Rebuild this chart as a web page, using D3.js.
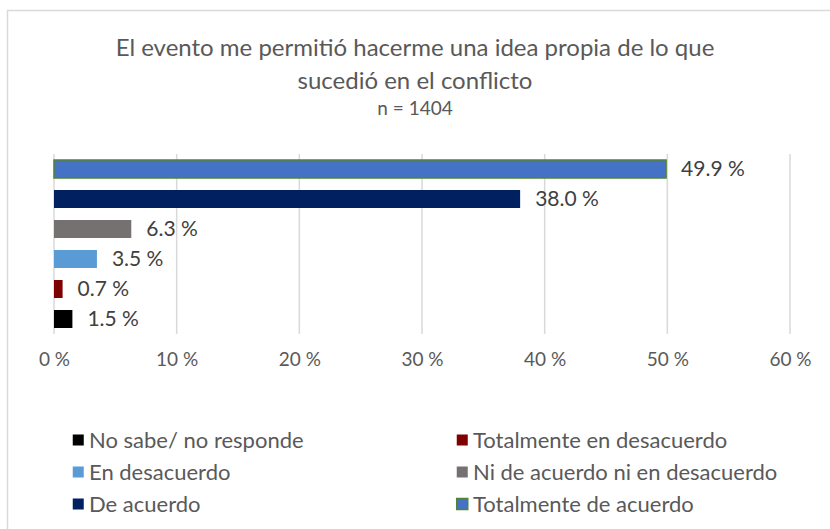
<!DOCTYPE html>
<html lang="es">
<head>
<meta charset="utf-8">
<title>El evento me permitió hacerme una idea propia</title>
<script src="https://cdn.jsdelivr.net/npm/d3@7"></script>
<style>
  body { margin: 0; background: #fff; }
  svg text { font-family: Lato, "Open Sans", sans-serif; }
</style>
</head>
<body>
<script>
// categories, bottom to top as they stack in the chart
var categories = ["No sabe/ no responde", "Totalmente en desacuerdo", "En desacuerdo",
                  "Ni de acuerdo ni en desacuerdo", "De acuerdo", "Totalmente de acuerdo"];
var values = [1.5, 0.7, 3.5, 6.3, 38.0, 49.9];
var colors = ["#000000", "#7f0000", "#5b9bd5", "#767171", "#002060", "#4472c4"];
var ticks = [0, 10, 20, 30, 40, 50, 60];
var titleLines = ["El evento me permitió hacerme una idea propia de lo que",
                  "sucedió en el conflicto"];
var subtitle = "n = 1404";

var w = 830, h = 529;
var svg = d3.select("body").append("svg").attr("width", w).attr("height", h);

// outer frame (runs off the right and bottom edges)
svg.append("rect")
   .attr("x", 7.5).attr("y", 10.5)
   .attr("width", 840).attr("height", 540)
   .attr("fill", "#fff")
   .attr("stroke", "#d9d9d9").attr("stroke-width", 1.5);

// title
svg.selectAll("text.title")
   .data(titleLines)
   .enter().append("text")
   .attr("class", "title")
   .attr("x", 415)
   .attr("y", function(d, i) { return 56 + i * 33; })
   .attr("text-anchor", "middle")
   .attr("font-size", "24px")
   .attr("fill", "#595959")
   .text(function(d) { return d; });
svg.append("text")
   .attr("x", 415).attr("y", 115)
   .attr("text-anchor", "middle")
   .attr("font-size", "19px")
   .attr("fill", "#595959")
   .text(subtitle);

var xScale = d3.scaleLinear().domain([0, 60]).range([54, 790]);
var yScale = d3.scaleBand()
               .domain(d3.range(categories.length).reverse())
               .range([154, 334])
               .paddingInner(0.4)
               .paddingOuter(0.2);

// gridlines
svg.selectAll("line.grid")
   .data(ticks)
   .enter().append("line")
   .attr("class", "grid")
   .attr("x1", function(d) { return xScale(d); })
   .attr("x2", function(d) { return xScale(d); })
   .attr("y1", 154).attr("y2", 334)
   .attr("stroke", "#d9d9d9").attr("stroke-width", 1.5);

// bars
svg.selectAll("rect.bar")
   .data(values)
   .enter().append("rect")
   .attr("class", "bar")
   .attr("x", xScale(0))
   .attr("y", function(d, i) { return yScale(i); })
   .attr("width", function(d) { return xScale(d) - xScale(0); })
   .attr("height", yScale.bandwidth())
   .attr("fill", function(d, i) { return colors[i]; })
   .attr("stroke", function(d, i) { return i === 5 ? "#548235" : "none"; })
   .attr("stroke-width", 1.5);

// value labels
svg.selectAll("text.label")
   .data(values)
   .enter().append("text")
   .attr("class", "label")
   .attr("x", function(d) { return xScale(d) + 15; })
   .attr("y", function(d, i) { return yScale(i) + yScale.bandwidth() / 2; })
   .attr("dy", "0.35em")
   .attr("font-size", "21px")
   .attr("fill", "#404040")
   .text(function(d) { return d.toFixed(1) + " %"; });

// x axis labels
var xAxis = d3.axisBottom(xScale)
              .tickValues(ticks)
              .tickSize(0)
              .tickPadding(0)
              .tickFormat(function(d) { return d + " %"; });
var gx = svg.append("g").attr("transform", "translate(0,352)").call(xAxis);
gx.select(".domain").remove();
gx.selectAll("text")
  .attr("font-size", "19px")
  .attr("font-family", "Lato, sans-serif")
  .attr("fill", "#595959");

// legend, two columns, row-major from the bottom category
var legend = svg.selectAll("g.legend")
   .data(categories)
   .enter().append("g")
   .attr("class", "legend")
   .attr("transform", function(d, i) {
       return "translate(" + (i % 2 === 0 ? 72 : 456) + "," + (440 + Math.floor(i / 2) * 32) + ")";
   });
legend.append("rect")
   .attr("x", 0.75).attr("y", -5.5)
   .attr("width", 11).attr("height", 11)
   .attr("fill", function(d, i) { return colors[i]; })
   .attr("stroke", function(d, i) { return i === 5 ? "#548235" : "none"; })
   .attr("stroke-width", 1.5);
legend.append("text")
   .attr("x", 17).attr("dy", "0.35em")
   .attr("font-size", "22px")
   .attr("fill", "#595959")
   .text(function(d) { return d; });
</script>
</body>
</html>
